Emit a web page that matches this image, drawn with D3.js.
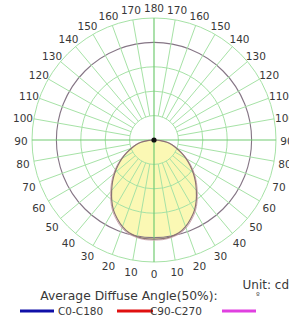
<!DOCTYPE html>
<html>
<head>
<meta charset="utf-8">
<script src="https://cdn.jsdelivr.net/npm/d3@7"></script>
<style>
  body { margin: 0; background: #fff; }
  svg text { font-family: "DejaVu Sans", sans-serif; fill: #383838; }
</style>
</head>
<body>
<div id="chart"></div>
<script>
// gamma angles (0 = straight down), intensity values
var gammas = [0,5,10,15,20,25,30,35,40,45,50,55,60,65,70,75,80,85,90];
var c0c180 = [203,203,201,197,189,178,166,151,135,120,105,90,76,62,49,38,27,13,0];
var c90c270 = [205,205,203,199,192,181,169,154,138,123,108,93,78,64,51,40,28,14,0];
var ringValues = [50,100,150,200,250];
var angleLabels = [0,10,20,30,40,50,60,70,80,90,100,110,120,130,140,150,160,170];
var legendItems = [
  {name: "C0-C180", color: "#1010a8"},
  {name: "C90-C270", color: "#e01010"},
  {name: "", color: "#e040e0"}
];

var width = 289, height = 329;
var cx = 154, cy = 140, R = 122;

var svg = d3.select("#chart").append("svg")
  .attr("width", width).attr("height", height);

var r = d3.scaleLinear().domain([0, 250]).range([0, R]);
var rad = function(d) { return d * Math.PI / 180; };

var g = svg.append("g").attr("transform", "translate(" + cx + "," + cy + ")");

// build closed outline from both half planes (mirror)
function shape(vals) {
  var pts = [];
  for (var i = gammas.length - 1; i >= 0; i--) pts.push([Math.PI - rad(gammas[i]), r(vals[i])]);
  for (var j = 1; j < gammas.length; j++) pts.push([Math.PI + rad(gammas[j]), r(vals[j])]);
  return pts;
}
var line = d3.lineRadial()
  .angle(function(d) { return d[0]; })
  .radius(function(d) { return d[1]; })
  .curve(d3.curveCatmullRom);

// fill
g.append("path")
  .attr("d", line(shape(c0c180)))
  .attr("fill", "#fbf8b4")
  .attr("stroke", "none");

// rings
g.selectAll(".ring").data(ringValues).enter().append("circle")
  .attr("r", function(d) { return r(d); })
  .attr("fill", "none")
  .attr("stroke", function(d) { return d == 200 ? "#857585" : "#a6e2a6"; })
  .attr("stroke-width", function(d) { return d == 200 ? 1.1 : 1; });

// spokes every 10 degrees
g.selectAll(".spoke").data(d3.range(0, 360, 10).filter(function(a) { return a % 90 != 0; }))
  .enter().append("line")
  .attr("x1", function(a) { return r(50) * Math.sin(rad(a)); })
  .attr("y1", function(a) { return r(50) * Math.cos(rad(a)); })
  .attr("x2", function(a) { return r(250) * Math.sin(rad(a)); })
  .attr("y2", function(a) { return r(250) * Math.cos(rad(a)); })
  .attr("stroke", "#a6e2a6").attr("stroke-width", 1);

// main axes
g.selectAll(".axis").data([0, 90]).enter().append("line")
  .attr("x1", function(a) { return -r(250) * Math.sin(rad(a)); })
  .attr("y1", function(a) { return -r(250) * Math.cos(rad(a)); })
  .attr("x2", function(a) { return r(250) * Math.sin(rad(a)); })
  .attr("y2", function(a) { return r(250) * Math.cos(rad(a)); })
  .attr("stroke", "#72cc72").attr("stroke-width", 1.2);

// curves
g.append("path").attr("d", line(shape(c90c270)))
  .attr("fill", "none").attr("stroke", "#d0a8b0").attr("stroke-width", 1);
g.append("path").attr("d", line(shape(c0c180)))
  .attr("fill", "none").attr("stroke", "#8a7474").attr("stroke-width", 1.2);

g.append("circle").attr("r", 2.6).attr("fill", "#111");

// angle labels both sides
var lr = 133;
[1, -1].forEach(function(side) {
  g.selectAll(null).data(angleLabels.concat(side == 1 ? [180] : []).filter(function(a) { return side == 1 || a != 0; }))
    .enter().append("text")
    .attr("x", function(a) { return side * lr * Math.sin(rad(a)); })
    .attr("y", function(a) { return 1.5 + lr * Math.cos(rad(a)); })
    .attr("dy", "0.35em")
    .attr("text-anchor", "middle")
    .style("font-size", "10.5px")
    .text(function(a) { return a; });
});

// footer texts
svg.append("text").attr("x", 289).attr("y", 289).attr("text-anchor", "end")
  .style("font-size", "12px").text("Unit: cd");
svg.append("text").attr("x", 258).attr("y", 298).attr("text-anchor", "middle")
  .style("font-size", "8px").text("º");
svg.append("text").attr("x", 129).attr("y", 300).attr("text-anchor", "middle")
  .style("font-size", "12.3px").text("Average Diffuse Angle(50%):");

var legX = d3.scaleOrdinal().domain(legendItems.map(function(d) { return d.color; })).range([20, 117, 222]);
var leg = svg.selectAll(".leg").data(legendItems).enter().append("g")
  .attr("transform", function(d) { return "translate(" + legX(d.color) + ",311)"; });
leg.append("line").attr("x1", 0).attr("x2", function(d, i) { return i == 1 ? 36 : 34; })
  .attr("stroke", function(d) { return d.color; }).attr("stroke-width", 3);
leg.append("text").attr("x", function(d, i) { return i == 1 ? 33 : 38; }).attr("dy", "0.35em")
  .style("font-size", "10.5px").text(function(d) { return d.name; });
</script>
</body>
</html>
